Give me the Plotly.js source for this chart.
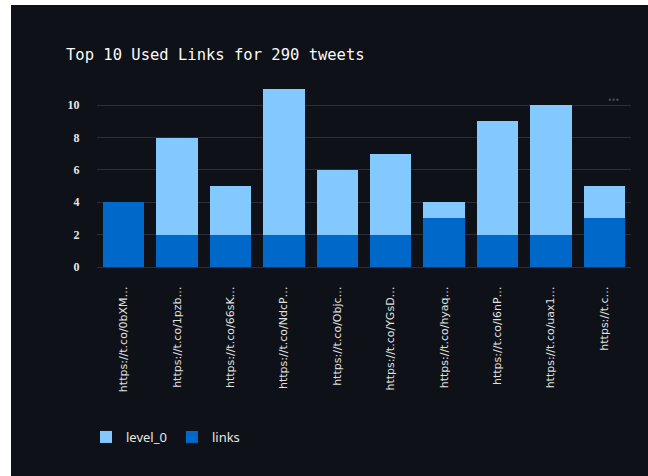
<!DOCTYPE html>
<html>
<head>
<meta charset="utf-8">
<script src="https://cdn.plot.ly/plotly-3.0.1.min.js"></script>
<style>
  html, body { margin: 0; padding: 0; background: #ffffff; width: 648px; height: 476px; overflow: hidden; }
  #chart { position: absolute; left: 11px; top: 5px; width: 637px; height: 471px; }
</style>
</head>
<body>
<div id="chart"></div>
<script>
const links = ["https://t.co/0bXM…", "https://t.co/1pzb…", "https://t.co/66sK…", "https://t.co/NdcP…",
               "https://t.co/Objc…", "https://t.co/YGsD…", "https://t.co/hyaq…", "https://t.co/I6nP…",
               "https://t.co/uax1…", "https://t.c…"];
const level0Values = [0, 6, 3, 9, 4, 5, 1, 7, 8, 2];
const linksValues = [4, 2, 2, 2, 2, 2, 3, 2, 2, 3];
const titleText = "Top 10 Used Links for 290 tweets";

const W = 637, H = 471;
const traces = [
  { type: 'bar', name: 'links', x: links, y: linksValues, marker: { color: '#0068c9' }, legendrank: 2, hoverinfo: 'x+y+name' },
  { type: 'bar', name: 'level_0', x: links, y: level0Values, marker: { color: '#83c9ff' }, legendrank: 1, hoverinfo: 'x+y+name' }
];

const layout = {
  width: W, height: H,
  paper_bgcolor: '#0e1117', plot_bgcolor: '#0e1117',
  barmode: 'stack', bargap: 0.226,
  margin: { l: 85.5, r: 17, t: 83.8, b: 209.3, pad: 0 },
  title: {
    text: titleText, x: 55 / W, xref: 'container', xanchor: 'left',
    y: 1 - 50 / H, yref: 'container', yanchor: 'middle',
    font: { family: 'DejaVu Sans Mono, Liberation Mono, monospace', size: 15.5, color: '#fafafa' }
  },
  xaxis: {
    type: 'category', tickangle: -90, showgrid: false, zeroline: false, showline: false,
    ticks: 'outside', ticklen: 14, tickcolor: 'rgba(0,0,0,0)',
    tickfont: { family: 'DejaVu Sans, sans-serif', size: 11, color: '#e0e0e0' }
  },
  yaxis: {
    range: [0, 11], tickvals: [0, 2, 4, 6, 8, 10], showgrid: true, gridcolor: '#2b2e36', gridwidth: 1,
    zeroline: true, zerolinecolor: '#2b2e36', zerolinewidth: 1, showline: false,
    ticks: 'outside', ticklen: 14, tickcolor: 'rgba(0,0,0,0)',
    tickfont: { family: 'Liberation Serif, DejaVu Serif, serif', size: 12, color: '#e6e6e6', weight: 'bold' }
  },
  showlegend: true,
  legend: {
    orientation: 'h', traceorder: 'normal',
    x: 75 / W, xref: 'container', xanchor: 'left',
    y: 1 - 432 / H, yref: 'container', yanchor: 'middle',
    bgcolor: 'rgba(0,0,0,0)', font: { family: 'Noto Sans, Open Sans, sans-serif', size: 13, color: '#e6e6e6' },
    itemwidth: 30
  },
  annotations: [
    { text: '•••', xref: 'paper', yref: 'paper', x: 0.968, y: 1 - (95 - 83.8) / 177.9, showarrow: false,
      font: { size: 10, color: '#4b4e57' }, xanchor: 'center', yanchor: 'middle' }
  ]
};

Plotly.newPlot('chart', traces, layout, { displayModeBar: false, staticPlot: false });
</script>
</body>
</html>
